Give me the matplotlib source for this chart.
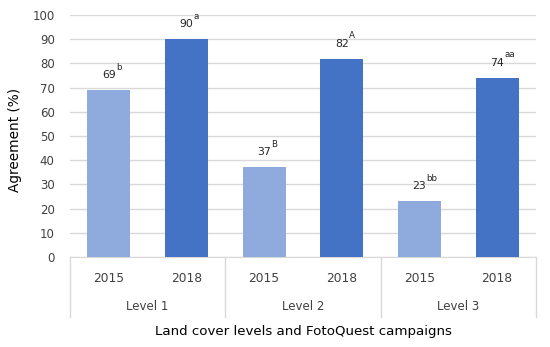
import matplotlib.pyplot as plt
from matplotlib.transforms import blended_transform_factory

levels = ['Level 1', 'Level 2', 'Level 3']
years = ['2015', '2018']
values = [69, 90, 37, 82, 23, 74]
sups = ['b', 'a', 'B', 'A', 'bb', 'aa']
colors = ['#8FAADC', '#4472C4']

plt.rcParams['font.family'] = 'DejaVu Sans'
W, H = 550, 347
fig = plt.figure(figsize=(5.5, 3.47), dpi=100)
ax = fig.add_axes([70 / W, 1 - 257 / H, 466 / W, 242 / H])

xs = list(range(len(values)))
bar_colors = [colors[i % 2] for i in xs]
ax.bar(xs, values, width=0.55, color=bar_colors, zorder=3)

# value labels with superscript letters
for x, v, s in zip(xs, values, sups):
    ax.annotate(str(v), (x, v), xytext=(0, 15), textcoords='offset pixels',
                ha='center', va='center', fontsize=7.8, color='#262626')
    ax.annotate(s, (x, v), xytext=(7, 23), textcoords='offset pixels',
                ha='left', va='center', fontsize=6.3, color='#262626')

ax.set_ylim(0, 100)
ax.set_xlim(-0.5, len(values) - 0.5)
ax.set_yticks(range(0, 101, 10))
ax.yaxis.grid(True, color='#D9D9D9', linewidth=1, zorder=0)
ax.tick_params(axis='y', length=0, labelsize=8.5, labelcolor='#404040', pad=11)
ax.tick_params(axis='x', length=0, labelsize=8.8, labelcolor='#404040', pad=11)
ax.set_xticks(xs)
ax.set_xticklabels(years * len(levels))
for sp in ['top', 'right', 'left']:
    ax.spines[sp].set_visible(False)
ax.spines['bottom'].set_color('#D9D9D9')

# group labels and separators below the axis
trans = blended_transform_factory(ax.transData, ax.transAxes)
ph = 242
for i, lev in enumerate(levels):
    ax.text(2 * i + 0.5, -50 / ph, lev, transform=trans, ha='center', va='center',
            fontsize=8.5, color='#404040')
for b in [-0.5, 1.5, 3.5, 5.5]:
    ax.plot([b, b], [0, -60 / ph], transform=trans, color='#D9D9D9',
            linewidth=1, clip_on=False)

fig.text(303 / W, 1 - 332 / H, 'Land cover levels and FotoQuest campaigns',
         ha='center', va='center', fontsize=9.6, color='black')
fig.text(15 / W, 1 - 140 / H, 'Agreement (%)', rotation=90,
         ha='center', va='center', fontsize=9.8, color='black')

fig.savefig('out.png', dpi=100)
